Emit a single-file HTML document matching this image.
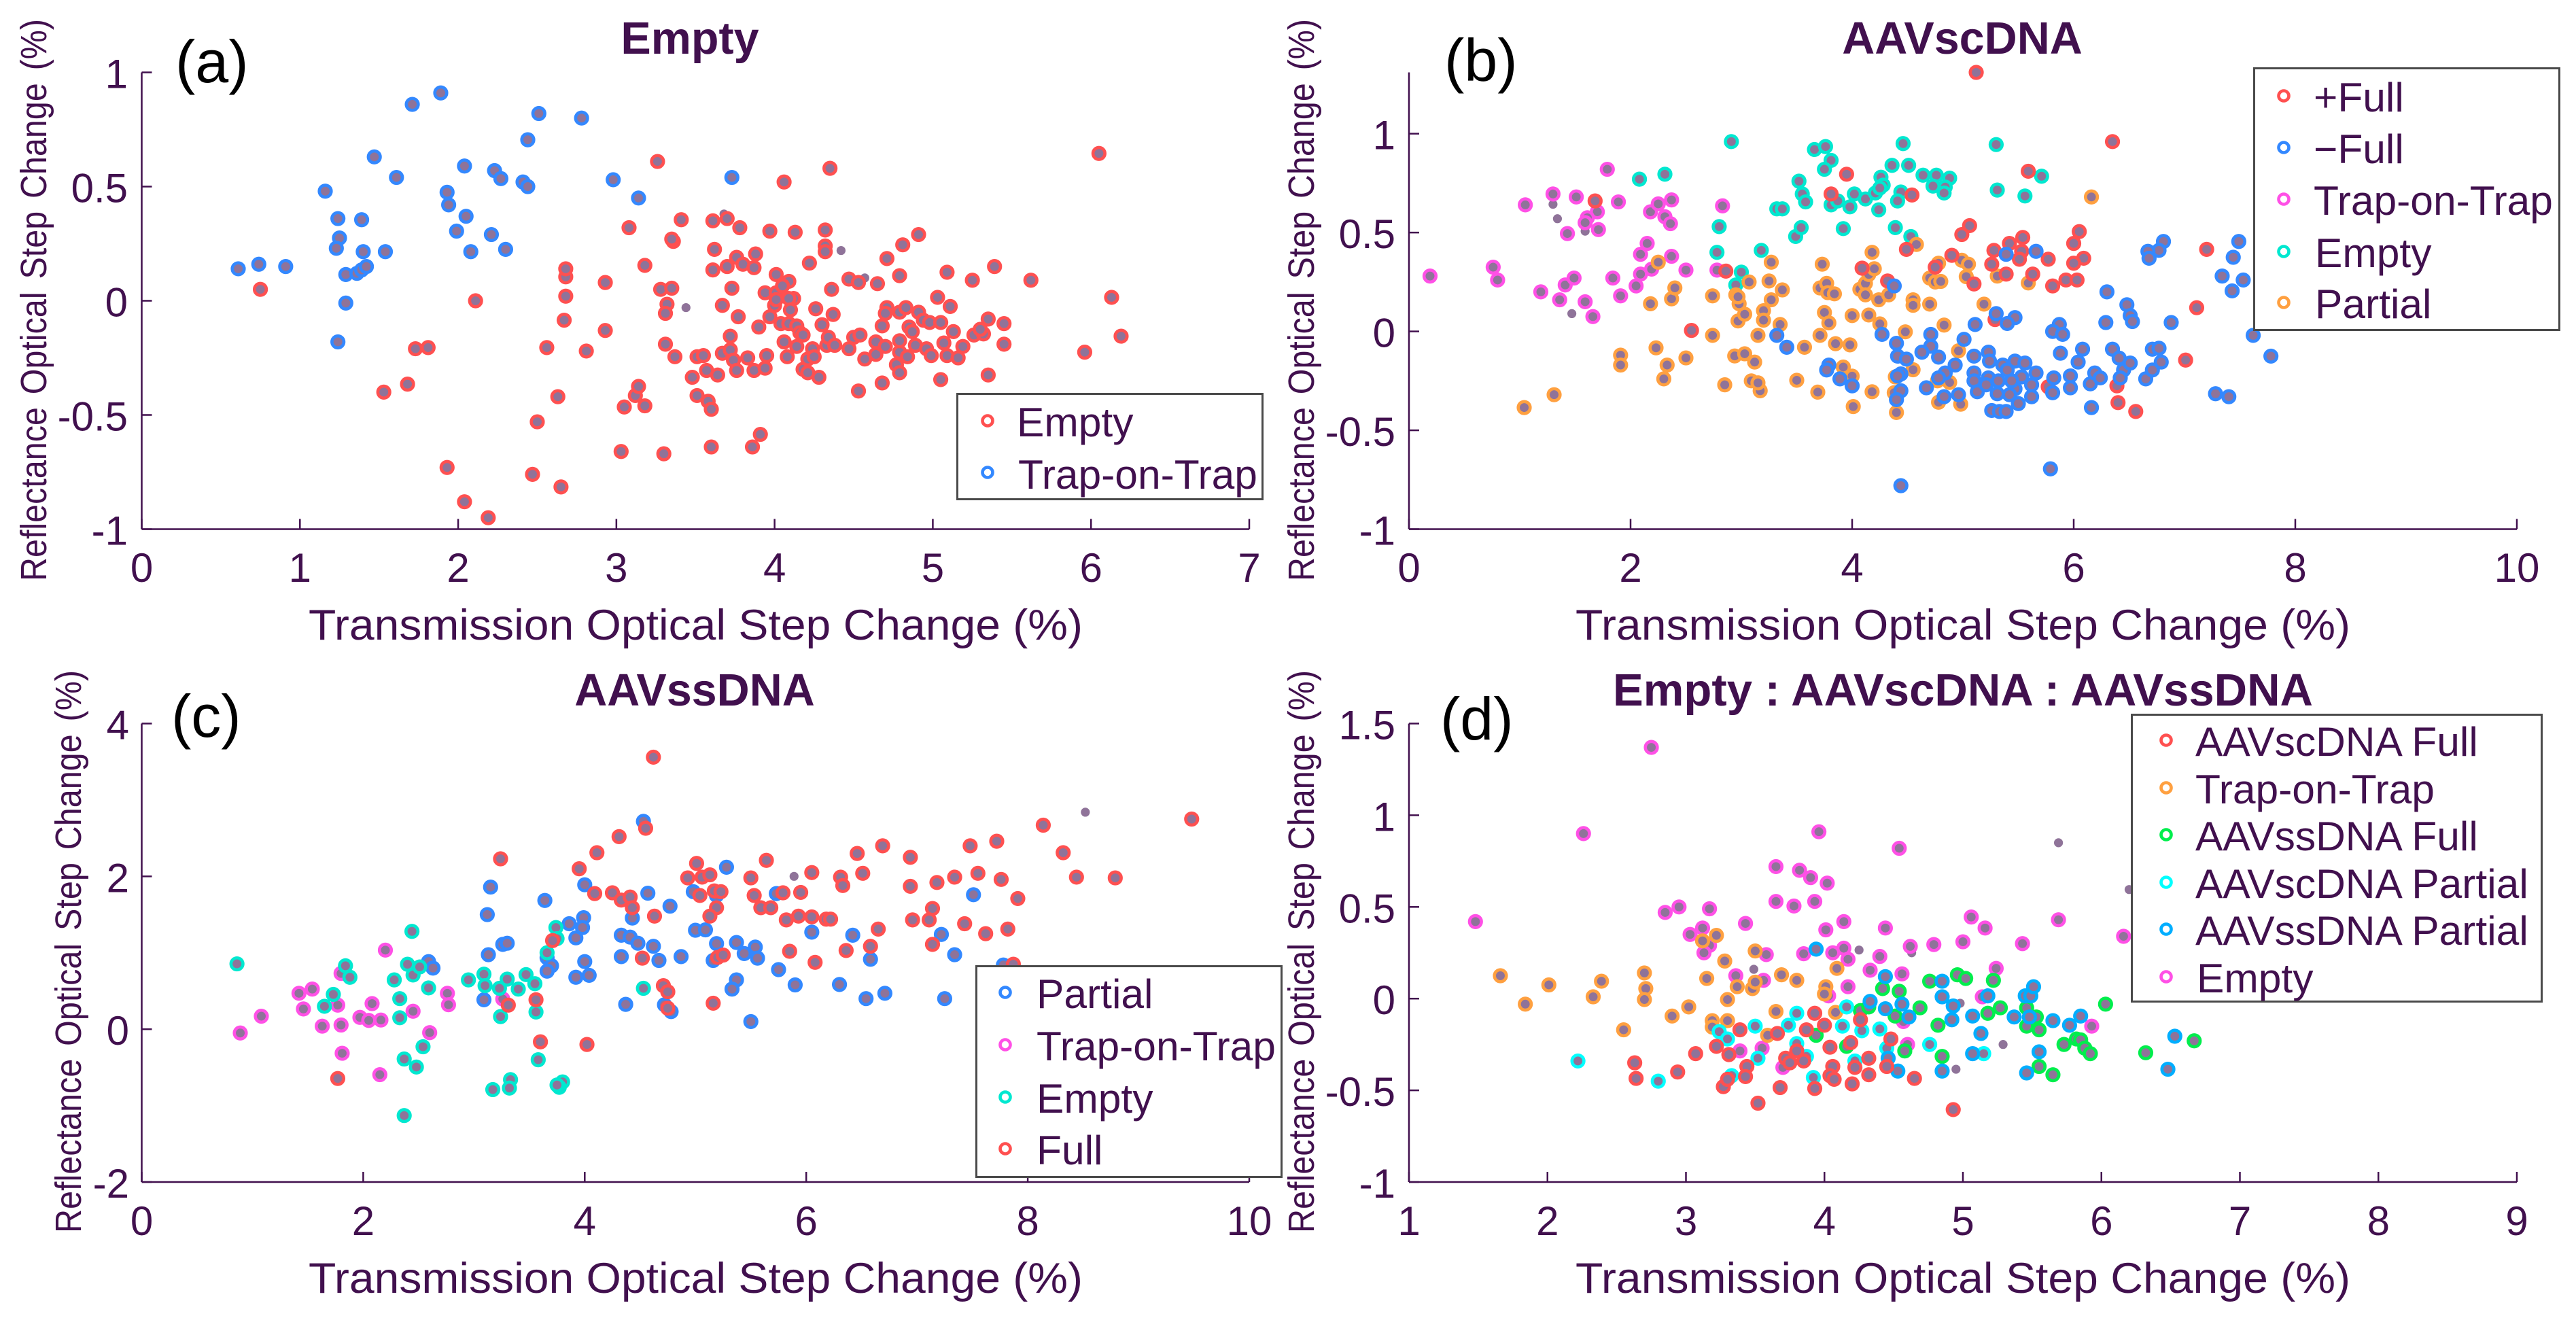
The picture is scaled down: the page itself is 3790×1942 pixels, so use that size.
<!DOCTYPE html>
<html lang="en">
<head>
<meta charset="utf-8">
<title>Reflectance vs Transmission Optical Step Change</title>
<style>
html,body{margin:0;padding:0;background:#fff;}
svg{display:block;}
text{font-family:"Liberation Sans",Arial,sans-serif;fill:#41104e;}
.tick{font-size:60px;}
.xt{font-size:63px;}
.yt{font-size:54px;word-spacing:6px;}
.ttl{font-size:66.5px;font-weight:bold;}
.leg{font-size:60.5px;}
.let{font-size:88px;fill:#000;}
.lb{fill:#fff;stroke:#4a4a4a;stroke-width:3;}
.lm{fill:#fff;stroke-width:4.6;}
</style>
</head>
<body>
<svg id="figure" xmlns="http://www.w3.org/2000/svg" width="3790" height="1942" viewBox="0 0 3790 1942">
<rect x="0" y="0" width="3790" height="1942" fill="#fff"/>

<g id="panel-a"></g>
<g id="panel-b"></g>
<g id="panel-c"></g>
<g id="panel-d"></g>

<text class="ttl" x="1015" y="79" text-anchor="middle">Empty</text>
<text class="ttl" x="2887" y="79" text-anchor="middle">AAVscDNA</text>
<text class="ttl" x="1022" y="1038" text-anchor="middle">AAVssDNA</text>
<text class="ttl" x="2888" y="1038" text-anchor="middle" textLength="1030" lengthAdjust="spacingAndGlyphs">Empty : AAVscDNA : AAVssDNA</text>

<text class="let" x="258" y="121">(a)</text>
<text class="let" x="2125" y="119">(b)</text>
<text class="let" x="252" y="1084">(c)</text>
<text class="let" x="2119" y="1088">(d)</text>

<text class="xt" x="454" y="941" textLength="1139" lengthAdjust="spacingAndGlyphs">Transmission Optical Step Change (%)</text>
<text class="xt" x="2318" y="941" textLength="1140" lengthAdjust="spacingAndGlyphs">Transmission Optical Step Change (%)</text>
<text class="xt" x="454" y="1902" textLength="1139" lengthAdjust="spacingAndGlyphs">Transmission Optical Step Change (%)</text>
<text class="xt" x="2318" y="1902" textLength="1140" lengthAdjust="spacingAndGlyphs">Transmission Optical Step Change (%)</text>

<text class="yt" transform="translate(68,855) rotate(-90)" textLength="827" lengthAdjust="spacingAndGlyphs">Reflectance Optical Step Change (%)</text>
<text class="yt" transform="translate(1933,855) rotate(-90)" textLength="827" lengthAdjust="spacingAndGlyphs">Reflectance Optical Step Change (%)</text>
<text class="yt" transform="translate(119,1814) rotate(-90)" textLength="828" lengthAdjust="spacingAndGlyphs">Reflectance Optical Step Change (%)</text>
<text class="yt" transform="translate(1933,1814) rotate(-90)" textLength="828" lengthAdjust="spacingAndGlyphs">Reflectance Optical Step Change (%)</text>

<g>
<rect class="lb" x="1408.5" y="579.5" width="449" height="155"/>
<circle class="lm" cx="1453" cy="619" r="7.5" stroke="#ff5050"/>
<text class="leg" x="1496" y="642">Empty</text>
<circle class="lm" cx="1453" cy="695" r="7.5" stroke="#3388ff"/>
<text class="leg" x="1498" y="719">Trap-on-Trap</text>
</g>

<g>
<rect class="lb" x="3316.5" y="100.5" width="449" height="385"/>
<circle class="lm" cx="3360" cy="141" r="7.5" stroke="#ff5050"/>
<text class="leg" x="3404" y="164">+Full</text>
<circle class="lm" cx="3360" cy="217" r="7.5" stroke="#3388ff"/>
<text class="leg" x="3404" y="240">−Full</text>
<circle class="lm" cx="3360" cy="293" r="7.5" stroke="#ff50e6"/>
<text class="leg" x="3404" y="316">Trap-on-Trap</text>
<circle class="lm" cx="3360" cy="370" r="7.5" stroke="#00e8d0"/>
<text class="leg" x="3406" y="393">Empty</text>
<circle class="lm" cx="3360" cy="445" r="7.5" stroke="#ffa040"/>
<text class="leg" x="3406" y="468">Partial</text>
</g>

<g>
<rect class="lb" x="1436.5" y="1421.5" width="449" height="310"/>
<circle class="lm" cx="1479" cy="1460" r="7.5" stroke="#3388ff"/>
<text class="leg" x="1525" y="1483">Partial</text>
<circle class="lm" cx="1479" cy="1537" r="7.5" stroke="#ff50e6"/>
<text class="leg" x="1525" y="1560">Trap-on-Trap</text>
<circle class="lm" cx="1479" cy="1614" r="7.5" stroke="#00e8d0"/>
<text class="leg" x="1525" y="1637">Empty</text>
<circle class="lm" cx="1479" cy="1690" r="7.5" stroke="#ff5050"/>
<text class="leg" x="1525" y="1713">Full</text>
</g>

<g>
<rect class="lb" x="3136.5" y="1051.5" width="603" height="422"/>
<circle class="lm" cx="3187" cy="1089" r="7.5" stroke="#ff5050"/>
<text class="leg" x="3230" y="1112">AAVscDNA Full</text>
<circle class="lm" cx="3187" cy="1159" r="7.5" stroke="#ffa040"/>
<text class="leg" x="3230" y="1182">Trap-on-Trap</text>
<circle class="lm" cx="3187" cy="1228" r="7.5" stroke="#00ee4c"/>
<text class="leg" x="3230" y="1251">AAVssDNA Full</text>
<circle class="lm" cx="3187" cy="1298" r="7.5" stroke="#00ffff"/>
<text class="leg" x="3230" y="1321">AAVscDNA Partial</text>
<circle class="lm" cx="3187" cy="1367" r="7.5" stroke="#00aeff"/>
<text class="leg" x="3230" y="1390">AAVssDNA Partial</text>
<circle class="lm" cx="3187" cy="1437" r="7.5" stroke="#ff50e6"/>
<text class="leg" x="3232" y="1460">Empty</text>
</g>
</svg>

<script>
/* ---------- axis ticks (data units) ---------- */
const aXTicks = [0,1,2,3,4,5,6,7];
const aYTicks = [-1,-0.5,0,0.5,1];
const bXTicks = [0,2,4,6,8,10];
const bYTicks = [-1,-0.5,0,0.5,1];
const cXTicks = [0,2,4,6,8,10];
const cYTicks = [-2,0,2,4];
const dXTicks = [1,2,3,4,5,6,7,8,9];
const dYTicks = [-1,-0.5,0,0.5,1,1.5];

/* ---------- panel (a) : Empty ---------- */
const aEmpty = [[0.75,0.05],[2.11,0],[1.73,-0.21],[1.81,-0.205],[1.53,-0.4],[1.68,-0.365],[1.93,-0.73],[2.04,-0.88],[2.19,-0.95],[2.47,-0.76],[2.65,-0.815],[2.5,-0.53],[2.63,-0.42],[2.56,-0.205],[2.67,-0.085],[2.68,0.02],[2.68,0.105],[2.68,0.14],[2.93,0.08],[2.93,-0.13],[2.81,-0.22],[3.08,0.32],[3.18,0.155],[3.26,0.61],[3.03,-0.66],[3.3,-0.67],[3.05,-0.465],[3.12,-0.415],[3.14,-0.375],[3.18,-0.46],[3.28,0.05],[3.35,0.055],[3.32,-0.015],[3.31,-0.055],[3.31,-0.19],[3.37,-0.245],[3.36,0.26],[3.35,0.27],[3.41,0.355],[3.51,-0.245],[3.55,-0.24],[3.48,-0.335],[3.51,-0.415],[3.58,-0.44],[3.6,-0.475],[3.6,-0.64],[3.57,-0.305],[3.64,-0.325],[3.61,0.135],[3.62,0.225],[3.61,0.35],[3.7,0.36],[3.78,0.32],[3.67,-0.02],[3.73,0.055],[3.7,0.15],[3.76,0.19],[3.8,0.16],[3.87,0.145],[3.88,0.205],[3.72,-0.155],[3.67,-0.23],[3.72,-0.215],[3.77,-0.07],[3.74,-0.26],[3.76,-0.305],[3.83,-0.25],[3.87,-0.305],[3.94,-0.295],[3.95,-0.24],[3.9,-0.115],[3.86,-0.64],[3.91,-0.585],[3.97,-0.07],[3.94,0.035],[3.97,0.305],[4.01,0.035],[4,-0.02],[4.01,0.115],[4.01,0.005],[4.09,0.085],[4.06,0.52],[4.05,0.065],[4.12,0.01],[4.09,0.01],[4.04,-0.1],[4.1,-0.04],[4.09,-0.1],[4.06,-0.18],[4.08,-0.245],[4.14,-0.2],[4.14,-0.11],[4.16,-0.14],[4.18,-0.15],[4.13,0.3],[4.22,0.165],[4.18,-0.3],[4.21,-0.315],[4.24,-0.21],[4.21,-0.255],[4.25,-0.245],[4.28,-0.335],[4.26,-0.035],[4.3,-0.105],[4.32,0.31],[4.32,0.24],[4.32,0.215],[4.35,0.58],[4.36,0.05],[4.37,-0.06],[4.33,-0.195],[4.34,-0.16],[4.38,-0.195],[4.47,0.095],[4.53,0.08],[4.47,-0.21],[4.5,-0.16],[4.54,-0.15],[4.53,-0.395],[4.57,-0.255],[4.64,-0.18],[4.64,-0.235],[4.65,0.075],[4.68,-0.11],[4.68,-0.36],[4.7,-0.2],[4.71,-0.03],[4.7,-0.055],[4.71,0.185],[4.77,-0.28],[4.79,-0.225],[4.79,-0.315],[4.79,0.11],[4.79,-0.175],[4.81,0.245],[4.79,-0.05],[4.83,-0.03],[4.85,-0.115],[4.87,-0.135],[4.84,-0.245],[4.89,-0.195],[4.91,-0.05],[4.91,0.29],[4.94,-0.085],[4.96,-0.21],[4.98,-0.095],[4.99,-0.24],[5.03,0.015],[5.05,-0.095],[5.05,-0.345],[5.07,-0.185],[5.09,0.125],[5.09,-0.24],[5.11,-0.025],[5.13,-0.135],[5.16,-0.25],[5.19,-0.2],[5.25,0.09],[5.26,-0.15],[5.32,-0.145],[5.3,-0.125],[5.35,-0.325],[5.35,-0.08],[5.39,0.15],[5.45,-0.1],[5.45,-0.19],[5.62,0.09],[5.96,-0.225],[6.05,0.645],[6.13,0.015],[6.19,-0.155]];
const aTrap = [[0.61,0.14],[0.74,0.16],[0.91,0.15],[1.16,0.48],[1.24,0.36],[1.25,0.275],[1.23,0.23],[1.29,0.115],[1.36,0.12],[1.39,0.135],[1.42,0.15],[1.39,0.355],[1.4,0.215],[1.54,0.215],[1.29,-0.01],[1.24,-0.18],[1.47,0.63],[1.61,0.54],[1.71,0.86],[1.89,0.91],[1.93,0.475],[1.94,0.42],[1.99,0.305],[2.04,0.59],[2.05,0.37],[2.08,0.215],[2.21,0.29],[2.23,0.57],[2.27,0.535],[2.3,0.225],[2.41,0.52],[2.44,0.5],[2.44,0.705],[2.51,0.82],[2.78,0.8],[2.98,0.53],[3.14,0.45],[3.73,0.54]];
const aUnmatched = [[3.68,0.38],[4.42,0.22],[4.57,0.1],[3.44,-0.03]];

/* ---------- panel (b) : AAVscDNA ---------- */
const bFullPlus = [[5.12,1.31],[6.35,0.96],[5.59,0.81],[3.95,0.795],[3.81,0.695],[4.54,0.69],[1.68,0.66],[5.06,0.535],[4.99,0.49],[6.05,0.505],[6,0.445],[5.54,0.475],[5.42,0.445],[5.28,0.41],[4.49,0.415],[5.53,0.405],[5.51,0.365],[5.77,0.365],[6.09,0.37],[6,0.345],[4.9,0.385],[5.26,0.34],[4.75,0.325],[4.09,0.32],[2.86,0.305],[5.63,0.29],[5.39,0.29],[5.93,0.26],[6.03,0.26],[5.81,0.23],[5.1,0.24],[4.32,0.255],[7.2,0.415],[7.11,0.12],[5.29,0.06],[2.55,0.005],[7.01,-0.145],[6.39,-0.275],[5.77,-0.28],[6.4,-0.36],[6.56,-0.405]];
const bFullMinus = [[7.49,0.455],[6.81,0.455],[6.77,0.41],[6.67,0.405],[6.68,0.37],[7.44,0.375],[7.34,0.28],[7.53,0.26],[7.43,0.205],[6.3,0.2],[6.48,0.135],[6.51,0.08],[6.53,0.05],[6.29,0.045],[6.88,0.045],[7.62,-0.02],[7.78,-0.125],[7.28,-0.315],[7.4,-0.33],[5.66,0.405],[5.39,0.39],[4.38,0.23],[5.3,0.09],[5.47,0.07],[5.4,0.04],[5.11,0.035],[5.87,0.035],[5.81,0],[5.9,-0.015],[3.32,-0.02],[4.27,-0.015],[3.41,-0.08],[4.71,-0.015],[4.4,-0.06],[5.01,-0.04],[4.71,-0.075],[4.63,-0.105],[4.78,-0.13],[4.41,-0.125],[4.49,-0.14],[3.79,-0.17],[3.77,-0.195],[3.89,-0.24],[4,-0.275],[4.44,-0.215],[4.41,-0.225],[4.93,-0.17],[4.84,-0.21],[4.78,-0.235],[4.67,-0.285],[4.44,-0.3],[4.4,-0.345],[4.83,-0.33],[4.96,-0.32],[5.1,-0.125],[5.23,-0.105],[5.24,-0.15],[5.1,-0.21],[5.1,-0.25],[5.23,-0.235],[5.13,-0.305],[5.21,-0.27],[5.32,-0.25],[5.31,-0.315],[5.36,-0.17],[5.4,-0.195],[5.47,-0.15],[5.56,-0.16],[5.53,-0.23],[5.62,-0.27],[5.47,-0.29],[5.42,-0.32],[5.5,-0.365],[5.62,-0.33],[5.26,-0.4],[5.33,-0.405],[5.39,-0.405],[5.44,-0.25],[5.66,-0.21],[5.82,-0.235],[5.88,-0.11],[6.04,-0.155],[6.08,-0.09],[5.97,-0.225],[5.97,-0.285],[5.81,-0.31],[6.15,-0.265],[6.19,-0.21],[6.24,-0.235],[6.16,-0.385],[6.35,-0.09],[6.41,-0.135],[6.45,-0.195],[6.51,-0.16],[6.42,-0.235],[6.65,-0.24],[6.71,-0.09],[6.77,-0.085],[6.71,-0.195],[6.79,-0.155],[4.44,-0.78],[5.79,-0.695]];
const bTrap = [[0.19,0.28],[0.76,0.325],[0.8,0.26],[1.05,0.64],[1.3,0.695],[1.51,0.68],[1.79,0.82],[1.89,0.655],[1.7,0.605],[1.61,0.575],[1.59,0.55],[1.43,0.495],[1.71,0.515],[1.19,0.2],[1.36,0.16],[1.41,0.235],[1.49,0.27],[1.59,0.15],[1.66,0.075],[1.84,0.27],[1.91,0.18],[2.05,0.23],[2.09,0.29],[2.19,0.315],[2.09,0.39],[2.15,0.445],[2.37,0.38],[2.18,0.605],[2.25,0.645],[2.37,0.665],[2.31,0.58],[2.36,0.545],[2.5,0.31],[2.78,0.31],[2.83,0.635]];
const bEmpty = [[2.91,0.96],[2.08,0.77],[2.31,0.795],[2.8,0.53],[2.78,0.4],[3.18,0.41],[3,0.3],[2.95,0.235],[3.32,0.62],[3.37,0.62],[3.49,0.48],[3.54,0.525],[3.52,0.76],[3.55,0.695],[3.58,0.655],[3.66,0.92],[3.76,0.935],[3.81,0.865],[3.75,0.82],[3.81,0.64],[3.92,0.52],[3.87,0.66],[3.98,0.63],[4.02,0.695],[4.12,0.67],[4.21,0.7],[4.24,0.615],[4.26,0.78],[4.28,0.74],[4.25,0.725],[4.36,0.84],[4.46,0.95],[4.51,0.84],[4.44,0.705],[4.41,0.66],[4.39,0.525],[4.53,0.48],[4.64,0.79],[4.76,0.79],[4.88,0.775],[4.73,0.735],[4.84,0.73],[4.83,0.7],[5.3,0.945],[5.31,0.715],[5.56,0.685],[5.71,0.785]];
const bPartial = [[1.04,-0.385],[1.31,-0.32],[1.91,-0.12],[1.91,-0.17],[2.23,-0.083],[2.33,-0.17],[2.3,-0.24],[2.5,-0.134],[2.18,0.14],[2.37,0.165],[2.4,0.22],[2.25,0.35],[2.74,0.18],[2.95,0.185],[2.74,-0.02],[2.85,-0.27],[2.94,-0.124],[3.03,-0.113],[3.12,-0.155],[3.09,-0.25],[3.17,-0.3],[3.15,-0.26],[2.97,0.053],[3.03,0.087],[2.98,0.14],[2.97,0.175],[3.07,0.25],[3.25,0.255],[3.27,0.35],[3.27,0.16],[3.2,0.105],[3.2,0.057],[3.37,0.21],[3.35,0.035],[3.15,-0.02],[3.57,-0.08],[3.5,-0.247],[3.69,-0.307],[3.71,-0.02],[3.73,0.34],[3.71,0.22],[3.77,0.243],[3.78,0.196],[3.84,0.19],[3.75,0.096],[3.79,0.043],[3.85,-0.062],[3.98,-0.068],[3.92,-0.18],[4,0.08],[4.15,0.083],[4.25,0.038],[4.07,0.213],[4.12,0.243],[4.15,0.288],[4.2,0.317],[4.12,0.185],[4.24,0.16],[4.33,0.185],[4.18,0.4],[4.18,-0.305],[4.01,-0.38],[4,-0.226],[4.39,-0.23],[4.38,-0.31],[4.55,-0.194],[4.4,-0.41],[4.48,-0.002],[4.55,0.16],[4.55,0.132],[4.7,0.138],[4.58,0.44],[4.83,0.032],[4.96,-0.098],[4.7,0.27],[4.75,0.25],[4.8,0.253],[4.78,0.345],[4.99,0.36],[5.05,0.34],[5.03,0.277],[5.19,0.138],[5.31,0.28],[5.59,0.245],[6.16,0.68],[4.78,-0.358],[4.98,-0.368],[4.88,-0.258],[4.77,-0.25],[5.19,-0.266]];
const bUnmatched = [[1.3,0.643],[1.34,0.57],[1.59,0.507],[1.47,0.09]];

/* ---------- panel (c) : AAVssDNA ---------- */
const cFull = [[4.62,3.56],[9.48,2.75],[8.14,2.67],[4.55,2.63],[4.31,2.52],[4.11,2.31],[3.24,2.23],[3.95,2.1],[6.69,2.4],[6.46,2.3],[6.94,2.25],[7.48,2.4],[7.72,2.46],[8.32,2.31],[5.64,2.21],[5.01,2.17],[6.51,2.04],[7.55,2.04],[6.05,2.05],[4.93,1.98],[5.06,1.99],[5.13,2.02],[5.5,1.98],[6.31,1.99],[6.33,1.88],[7.34,1.99],[7.18,1.92],[7.76,1.96],[6.94,1.87],[8.44,1.99],[8.79,1.98],[7.91,1.71],[4.25,1.785],[4.09,1.775],[4.33,1.69],[4.41,1.73],[4.43,1.59],[5.04,1.75],[5.17,1.81],[5.23,1.8],[5.53,1.75],[5.79,1.785],[5.95,1.79],[5.59,1.59],[5.68,1.59],[5.19,1.59],[5.13,1.48],[4.63,1.48],[5.82,1.43],[5.93,1.48],[6.05,1.47],[6.18,1.44],[6.22,1.44],[6.65,1.31],[6.96,1.43],[7.11,1.43],[7.14,1.58],[7.43,1.38],[7.62,1.25],[7.82,1.31],[7.14,1.11],[6.58,1.085],[6.36,1.03],[5.85,1.02],[6.08,0.875],[5.2,0.94],[5.25,0.97],[4.52,0.93],[3.71,1.16],[4.71,0.57],[4.75,0.49],[4.75,0.275],[5.16,0.34],[3.56,0.385],[3.31,0.315],[3.6,-0.165],[4.02,-0.2],[1.77,-0.645],[7.87,0.85]];
const cPartial = [[4.53,2.72],[5.28,2.12],[3.15,1.86],[4,1.89],[3.64,1.685],[3.12,1.5],[4.98,1.8],[5.19,1.75],[5.73,1.775],[4.57,1.78],[4.77,1.61],[7.51,1.76],[4.43,1.455],[3.99,1.46],[3.86,1.38],[3.98,1.33],[3.92,1.195],[5,1.295],[5.09,1.3],[6.05,1.27],[6.42,1.23],[7.22,1.24],[4.33,1.23],[4.41,1.205],[4.48,1.125],[4.62,1.085],[5.19,1.12],[5.37,1.135],[5.54,1.075],[5.44,0.99],[5.56,0.93],[5.16,0.9],[4.87,0.95],[4.67,0.9],[4.33,0.95],[4,0.885],[3.26,1.11],[3.3,1.125],[3.13,0.975],[3.66,0.935],[3.7,0.83],[3.66,0.76],[3.92,0.68],[4.04,0.705],[2.59,0.885],[2.63,0.8],[5.75,0.78],[6.58,0.915],[7.34,0.975],[7.78,0.84],[5.37,0.645],[5.33,0.525],[5.9,0.58],[6.3,0.585],[6.71,0.47],[6.54,0.4],[7.25,0.4],[4.37,0.325],[4.72,0.32],[4.78,0.23],[5.5,0.1],[3.09,0.385]];
const cTrap = [[2.2,1.035],[1.8,0.73],[1.54,0.525],[1.42,0.47],[1.46,0.265],[1.08,0.17],[0.89,-0.05],[1.77,0.315],[1.63,0.04],[1.8,0.055],[1.81,-0.315],[1.97,0.155],[2.08,0.335],[2.05,0.115],[2.16,0.12],[2.15,-0.595],[2.45,0.235],[2.6,-0.045],[2.76,0.47],[2.77,0.32],[3.26,0.395]];
const cEmpty = [[0.86,0.855],[1.84,0.83],[1.88,0.68],[1.73,0.455],[1.65,0.3],[2.28,0.645],[2.4,0.85],[2.44,1.28],[2.45,0.71],[2.51,0.815],[2.33,0.4],[2.33,0.15],[2.59,0.54],[2.54,-0.23],[2.37,-0.39],[2.48,-0.495],[2.37,-1.13],[2.95,0.645],[3.09,0.72],[3.1,0.57],[3.23,0.535],[3.3,0.655],[3.4,0.525],[3.47,0.715],[3.55,0.595],[3.56,0.225],[3.24,0.165],[3.58,-0.4],[3.33,-0.66],[3.32,-0.77],[3.17,-0.79],[3.8,-0.69],[3.77,-0.76],[3.75,-0.73],[3.74,1.33],[3.75,1.185],[3.66,1],[4.53,0.535]];
const cUnmatched = [[8.52,2.84],[5.89,2]];

/* ---------- panel (d) : Empty : AAVscDNA : AAVssDNA ---------- */
const dScFull = [[2.63,-0.35],[2.64,-0.435],[2.94,-0.4],[3.07,-0.3],[3.22,-0.26],[3.27,-0.48],[3.3,-0.44],[3.31,-0.305],[3.39,-0.17],[3.44,-0.37],[3.43,-0.425],[3.52,-0.57],[3.66,-0.19],[3.68,-0.485],[3.72,-0.325],[3.75,-0.35],[3.8,-0.285],[3.85,-0.34],[3.87,-0.17],[3.93,-0.08],[4,-0.145],[3.93,-0.49],[4.04,-0.265],[4.06,-0.37],[4.04,-0.42],[4.07,-0.44],[4.19,-0.24],[4.22,-0.375],[4.2,-0.465],[4.26,-0.115],[4.32,-0.325],[4.32,-0.415],[4.45,-0.37],[4.48,-0.22],[4.65,-0.435],[4.93,-0.605]];
const dTrap = [[1.66,0.125],[1.84,-0.03],[2.01,0.075],[2.33,0.01],[2.39,0.095],[2.55,-0.17],[2.7,0.14],[2.71,0.055],[2.7,-0.005],[2.9,-0.095],[3.02,-0.045],[3.12,0.315],[3.22,0.345],[3.28,0.205],[3.15,0.11],[3.19,-0.12],[3.19,-0.155],[3.3,-0.005],[3.3,-0.12],[3.37,0.065],[3.48,0.055],[3.5,0.09],[3.5,0.26],[3.59,-0.2],[3.69,0.13],[3.65,-0.07],[3.8,0.1],[4.01,0.065],[4,0.025],[4.08,-0.075],[4.09,0.165]];
const dSsFull = [[3.94,-0.2],[4.16,-0.26],[4.26,-0.065],[4.32,-0.045],[4.42,0.055],[4.51,-0.095],[4.54,0.04],[4.58,-0.285],[4.69,-0.05],[4.76,0.095],[4.82,-0.145],[4.85,-0.315],[4.96,0.13],[5.02,0.11],[5.18,-0.08],[5.22,0.1],[5.27,-0.05],[5.46,-0.05],[5.46,-0.15],[5.53,-0.1],[5.55,-0.17],[5.55,-0.37],[5.65,-0.415],[5.73,-0.25],[5.82,-0.22],[5.85,-0.225],[5.88,-0.27],[5.92,-0.3],[6.03,-0.03],[6.32,-0.295],[6.67,-0.23]];
const dScPartial = [[2.22,-0.34],[2.8,-0.45],[3.24,-0.18],[3.3,-0.22],[3.33,-0.42],[3.5,-0.15],[3.52,-0.325],[3.74,-0.145],[3.8,-0.08],[3.8,-0.245],[3.87,-0.315],[3.92,-0.43],[4.13,-0.15],[4.16,-0.045],[4.22,-0.34],[4.27,-0.175],[4.4,-0.165],[4.45,-0.27],[4.76,-0.25],[5.15,-0.3]];
const dSsPartial = [[3.94,0.27],[4.44,0.12],[4.33,-0.015],[4.44,-0.055],[4.46,-0.325],[4.53,-0.395],[4.56,-0.03],[4.61,-0.1],[4.85,0.095],[4.85,0.01],[4.93,-0.04],[4.92,-0.115],[4.85,-0.395],[5.07,-0.095],[5.07,-0.3],[5.13,-0.19],[5.18,0.015],[5.37,-0.1],[5.45,0.015],[5.49,0.015],[5.48,-0.1],[5.51,0.065],[5.46,-0.405],[5.55,-0.29],[5.65,-0.12],[5.77,-0.145],[5.85,-0.095],[6.48,-0.385],[6.53,-0.205]];
const dEmpty = [[2.75,1.37],[2.26,0.9],[1.48,0.42],[3.96,0.91],[4.54,0.82],[3.65,0.72],[3.82,0.7],[3.9,0.66],[4.02,0.63],[3.65,0.53],[3.78,0.505],[3.93,0.53],[2.85,0.47],[2.95,0.5],[3.17,0.49],[3.43,0.41],[3.12,0.385],[3.03,0.35],[3.17,0.29],[3.13,0.25],[4.01,0.375],[4.14,0.42],[4.44,0.385],[5.06,0.445],[5.16,0.385],[5.69,0.43],[5.43,0.3],[5,0.31],[4.79,0.295],[4.62,0.285],[4.06,0.25],[4.14,0.275],[4.17,0.215],[3.85,0.245],[3.58,0.24],[4.4,0.23],[4.33,0.155],[4.56,0.135],[5.24,0.165],[6.16,0.34],[3.36,0.125],[3.56,0.1],[4.17,0.065],[4.03,0.015],[5.14,0.01],[5.93,-0.15],[4.57,-0.125],[4.6,-0.25],[3.55,-0.27],[3.39,-0.285],[3.7,-0.375]];
const dUnmatched = [[5.69,0.85],[6.2,0.595],[4.25,0.265],[4.63,0.25],[3.49,0.16],[4.98,-0.025],[5.29,-0.25],[4.95,-0.385]];

const NS = 'http://www.w3.org/2000/svg';
const AXIS_COLOR = '#41104e';
const CENTER_COLOR = '#8f7399';

function makeXScale(xMin, xMax, left, right) {
  return function (v) { return left + (v - xMin) / (xMax - xMin) * (right - left); };
}
function makeYScale(yMin, yMax, bottom, top) {
  return function (v) { return bottom - (v - yMin) / (yMax - yMin) * (bottom - top); };
}

function line(parent, x1, y1, x2, y2, name) {
  const el = document.createElementNS(NS, 'line');
  el.setAttribute('x1', x1);
  el.setAttribute('y1', y1);
  el.setAttribute('x2', x2);
  el.setAttribute('y2', y2);
  el.setAttribute('stroke', AXIS_COLOR);
  el.setAttribute('stroke-width', '2.5');
  
  
  parent.appendChild(el);
}

function label(parent, x, y, anchor, str, name) {
  const el = document.createElementNS(NS, 'text');
  el.setAttribute('class', 'tick');
  el.setAttribute('x', x);
  el.setAttribute('y', y);
  el.setAttribute('text-anchor', anchor);
  
  
  el.textContent = str;
  parent.appendChild(el);
}

function drawAxes(id, sx, sy, box, xTicks, yTicks) {
  const g = document.getElementById(id);
  line(g, box.left, box.bottom, box.right, box.bottom, 'x-axis-line');
  line(g, box.left, box.bottom, box.left, box.top, 'y-axis-line');
  xTicks.forEach(function (t) {
    line(g, sx(t), box.bottom, sx(t), box.bottom - 15, 'x-tick');
    label(g, sx(t), box.xLabelY, 'middle', String(t), 'x-tick-label');
  });
  yTicks.forEach(function (t) {
    line(g, box.left, sy(t), box.left + 15, sy(t), 'y-tick');
    label(g, box.yLabelX, sy(t) + 23, 'end', String(t), 'y-tick-label');
  });
}

function drawSeries(id, sx, sy, points, color, name) {
  const g = document.getElementById(id);
  points.forEach(function (p) {
    const c = document.createElementNS(NS, 'circle');
    c.setAttribute('cx', sx(p[0]));
    c.setAttribute('cy', sy(p[1]));
    c.setAttribute('r', color ? 8.8 : 6.6);
    c.setAttribute('fill', CENTER_COLOR);
    if (color) {
      c.setAttribute('stroke', color);
      c.setAttribute('stroke-width', '4.6');
    }
    
    
    g.appendChild(c);
  });
}

/* panel a */
const boxA = {left: 208.5, right: 1838, top: 106.5, bottom: 778.5, xLabelY: 856, yLabelX: 188};
const xA = makeXScale(0, 7, boxA.left, boxA.right);
const yA = makeYScale(-1, 1, boxA.bottom, boxA.top);
drawAxes('panel-a', xA, yA, boxA, aXTicks, aYTicks);
drawSeries('panel-a', xA, yA, aUnmatched, null, 'point-unmatched');
drawSeries('panel-a', xA, yA, aEmpty, '#ff5050', 'point-empty');
drawSeries('panel-a', xA, yA, aTrap, '#3388ff', 'point-trap-on-trap');

/* panel b */
const boxB = {left: 2073, right: 3703, top: 106.5, bottom: 778.5, xLabelY: 856, yLabelX: 2053};
const xB = makeXScale(0, 10, boxB.left, boxB.right);
const yB = makeYScale(-1, 1.31, boxB.bottom, boxB.top);
drawAxes('panel-b', xB, yB, boxB, bXTicks, bYTicks);
drawSeries('panel-b', xB, yB, bUnmatched, null, 'point-unmatched');
drawSeries('panel-b', xB, yB, bTrap, '#ff50e6', 'point-trap-on-trap');
drawSeries('panel-b', xB, yB, bEmpty, '#00e8d0', 'point-empty');
drawSeries('panel-b', xB, yB, bPartial, '#ffa040', 'point-partial');
drawSeries('panel-b', xB, yB, bFullPlus, '#ff5050', 'point-plus-full');
drawSeries('panel-b', xB, yB, bFullMinus, '#3388ff', 'point-minus-full');

/* panel c */
const boxC = {left: 208.5, right: 1838, top: 1064.5, bottom: 1739, xLabelY: 1817, yLabelX: 190};
const xC = makeXScale(0, 10, boxC.left, boxC.right);
const yC = makeYScale(-2, 4, boxC.bottom, boxC.top);
drawAxes('panel-c', xC, yC, boxC, cXTicks, cYTicks);
drawSeries('panel-c', xC, yC, cUnmatched, null, 'point-unmatched');
drawSeries('panel-c', xC, yC, cPartial, '#3388ff', 'point-partial');
drawSeries('panel-c', xC, yC, cTrap, '#ff50e6', 'point-trap-on-trap');
drawSeries('panel-c', xC, yC, cEmpty, '#00e8d0', 'point-empty');
drawSeries('panel-c', xC, yC, cFull, '#ff5050', 'point-full');

/* panel d */
const boxD = {left: 2073, right: 3703, top: 1064.5, bottom: 1739, xLabelY: 1817, yLabelX: 2053};
const xD = makeXScale(1, 9, boxD.left, boxD.right);
const yD = makeYScale(-1, 1.5, boxD.bottom, boxD.top);
drawAxes('panel-d', xD, yD, boxD, dXTicks, dYTicks);
drawSeries('panel-d', xD, yD, dUnmatched, null, 'point-unmatched');
drawSeries('panel-d', xD, yD, dEmpty, '#ff50e6', 'point-empty');
drawSeries('panel-d', xD, yD, dTrap, '#ffa040', 'point-trap-on-trap');
drawSeries('panel-d', xD, yD, dSsFull, '#00ee4c', 'point-aavssdna-full');
drawSeries('panel-d', xD, yD, dScPartial, '#00ffff', 'point-aavscdna-partial');
drawSeries('panel-d', xD, yD, dSsPartial, '#00aeff', 'point-aavssdna-partial');
drawSeries('panel-d', xD, yD, dScFull, '#ff5050', 'point-aavscdna-full');
</script>
</body>
</html>
